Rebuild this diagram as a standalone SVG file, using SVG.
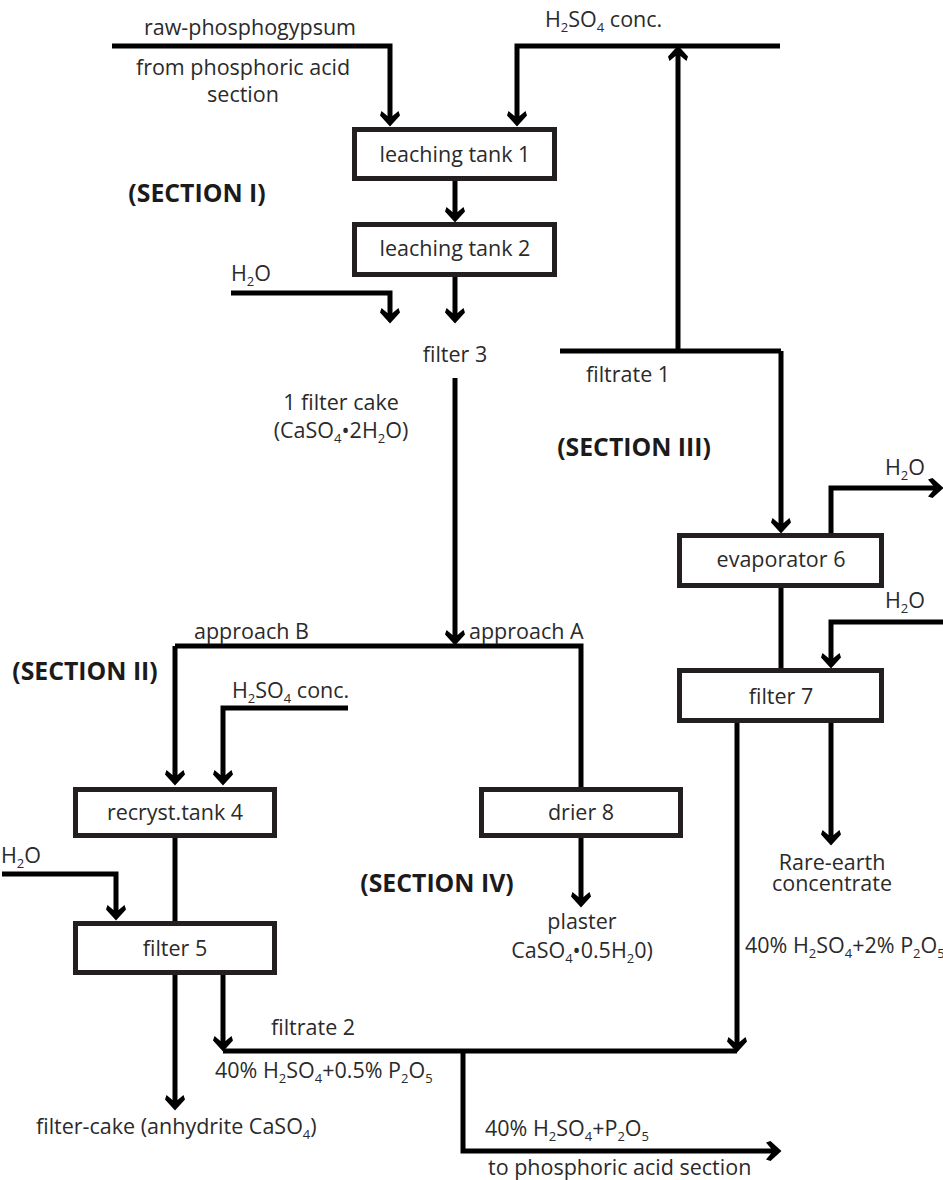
<svg xmlns="http://www.w3.org/2000/svg" width="943" height="1180" viewBox="0 0 943 1180">
<style>
text{font-family:"Open Sans","Noto Sans","Liberation Sans",sans-serif;font-size:21.5px;fill:#2b2a2a;text-anchor:middle}
.l{text-anchor:start}
.s{font-weight:700;font-size:24.8px;fill:#1c1a1a}
.b{font-size:13px}
rect{fill:#fff;stroke:#231f20;stroke-width:5}
#connectors path{fill:none;stroke:#000;stroke-width:5;stroke-linejoin:miter}
.a{marker-end:url(#h)}
</style>
<defs>
<marker id="h" markerUnits="userSpaceOnUse" viewBox="-1 -11 18 22" markerWidth="18" markerHeight="22" refX="12" refY="0" orient="auto">
<path d="M15.5 0L4.5 -10L0 -8.5L5 -2.5V2.5L0 8.5L4.5 10Z" fill="#000"/>
</marker>
</defs>
<g id="connectors">
<path class="a" d="M112 46H390V123"/>
<path class="a" d="M780 46H517V123"/>
<path class="a" d="M455 181V219"/>
<path class="a" d="M455 277V320"/>
<path class="a" d="M231 293H390V320"/>
<path class="a" d="M455 378V642"/>
<path d="M560 351H781"/>
<path class="a" d="M781 351V530"/>
<path class="a" d="M678 351V49"/>
<path d="M175 646H581V787"/>
<path class="a" d="M175 646V782"/>
<path class="a" d="M348 708H223V782"/>
<path class="a" d="M831 533V488H940"/>
<path d="M781 588V668"/>
<path class="a" d="M943 622H831V665"/>
<path class="a" d="M831 723V842"/>
<path class="a" d="M737 723V1049"/>
<path d="M175 837V921"/>
<path class="a" d="M2 874H116V917"/>
<path class="a" d="M581 838V904"/>
<path class="a" d="M175 975V1107"/>
<path class="a" d="M223 975V1048"/>
<path d="M223 1051H737"/>
<path class="a" d="M463 1051V1151H778"/>
</g>
<g id="leaching-tank-1"><rect x="354.5" y="129.5" width="200" height="49"/><text x="455" y="162">leaching tank 1</text></g>
<g id="leaching-tank-2"><rect x="354.5" y="224.5" width="200" height="50"/><text x="455" y="256">leaching tank 2</text></g>
<g id="filter-3"><text x="455" y="362">filter 3</text></g>
<g id="evaporator-6"><rect x="679.5" y="535.5" width="202" height="50"/><text x="781" y="567">evaporator 6</text></g>
<g id="filter-7"><rect x="679.5" y="670.5" width="202" height="50"/><text x="781" y="704">filter 7</text></g>
<g id="recryst-tank-4"><rect x="75.5" y="789.5" width="199" height="46"/><text x="175" y="820">recryst.tank 4</text></g>
<g id="filter-5"><rect x="75.5" y="923.5" width="199" height="49"/><text x="175" y="956">filter 5</text></g>
<g id="drier-8"><rect x="481.5" y="789.5" width="199" height="46"/><text x="581" y="820">drier 8</text></g>
<g id="labels">
<text x="250" y="35">raw-phosphogypsum</text>
<text x="243" y="75">from phosphoric acid</text>
<text x="243" y="102">section</text>
<text class="l" x="545" y="27">H<tspan class="b" dy="5">2</tspan><tspan dy="-5">SO</tspan><tspan class="b" dy="5">4</tspan><tspan dy="-5"> conc.</tspan></text>
<text class="s" x="197" y="202">(SECTION I)</text>
<text class="l" x="231" y="281">H<tspan class="b" dy="5">2</tspan><tspan dy="-5">O</tspan></text>
<text class="l" x="586" y="382">filtrate 1</text>
<text x="341" y="410">1 filter cake</text>
<text x="341" y="438">(CaSO<tspan class="b" dy="5">4</tspan><tspan dy="-5">•2H</tspan><tspan class="b" dy="5">2</tspan><tspan dy="-5">O)</tspan></text>
<text class="s" x="634" y="456">(SECTION III)</text>
<text class="l" x="885" y="475">H<tspan class="b" dy="5">2</tspan><tspan dy="-5">O</tspan></text>
<text class="l" x="885" y="608">H<tspan class="b" dy="5">2</tspan><tspan dy="-5">O</tspan></text>
<text class="l" x="194" y="639">approach B</text>
<text class="l" x="469" y="639">approach A</text>
<text class="s" x="85" y="680">(SECTION II)</text>
<text class="l" x="232" y="698">H<tspan class="b" dy="5">2</tspan><tspan dy="-5">SO</tspan><tspan class="b" dy="5">4</tspan><tspan dy="-5"> conc.</tspan></text>
<text class="l" x="1" y="863">H<tspan class="b" dy="5">2</tspan><tspan dy="-5">O</tspan></text>
<text x="832" y="870"><tspan x="832" y="870">Rare-earth</tspan><tspan x="832" y="891">concentrate</tspan></text>
<text class="s" x="437" y="892">(SECTION IV)</text>
<text x="582" y="929">plaster</text>
<text x="582" y="958">CaSO<tspan class="b" dy="5">4</tspan><tspan dy="-5">•0.5H</tspan><tspan class="b" dy="5">2</tspan><tspan dy="-5">0)</tspan></text>
<text class="l" x="745" y="953">40% H<tspan class="b" dy="5">2</tspan><tspan dy="-5">SO</tspan><tspan class="b" dy="5">4</tspan><tspan dy="-5">+2% P</tspan><tspan class="b" dy="5">2</tspan><tspan dy="-5">O</tspan><tspan class="b" dy="5">5</tspan></text>
<text class="l" x="271" y="1035">filtrate 2</text>
<text class="l" x="215" y="1078">40% H<tspan class="b" dy="5">2</tspan><tspan dy="-5">SO</tspan><tspan class="b" dy="5">4</tspan><tspan dy="-5">+0.5% P</tspan><tspan class="b" dy="5">2</tspan><tspan dy="-5">O</tspan><tspan class="b" dy="5">5</tspan></text>
<text class="l" x="36" y="1134">filter-cake (anhydrite CaSO<tspan class="b" dy="5">4</tspan><tspan dy="-5">)</tspan></text>
<text class="l" x="485" y="1136">40% H<tspan class="b" dy="5">2</tspan><tspan dy="-5">SO</tspan><tspan class="b" dy="5">4</tspan><tspan dy="-5">+P</tspan><tspan class="b" dy="5">2</tspan><tspan dy="-5">O</tspan><tspan class="b" dy="5">5</tspan></text>
<text class="l" x="488" y="1175">to phosphoric acid section</text>
</g>
</svg>
